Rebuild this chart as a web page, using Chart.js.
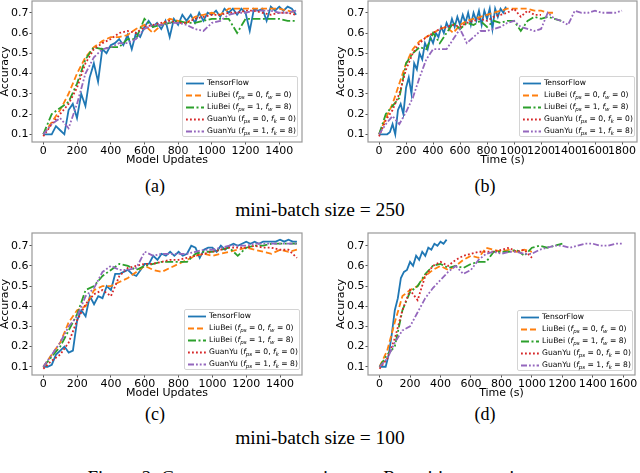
<!DOCTYPE html>
<html>
<head>
<meta charset="utf-8">
<script src="https://cdn.jsdelivr.net/npm/chart.js@4.4.0/dist/chart.umd.min.js"></script>
<style>
body { margin: 0; width: 640px; height: 473px; overflow: hidden; background: #fff; position: relative; }
canvas { position: absolute; }
.cap { position: absolute; font-family: 'Liberation Serif'; color: #000; white-space: nowrap; transform: translateX(-50%); line-height: 1; }
.leg { position: absolute; background: rgba(255,255,255,0.85); border: 1px solid #d4d4d4; border-radius: 2px; box-sizing: border-box; font: 7.6px 'DejaVu Sans'; color: #000; }
.leg div { position: absolute; left: 0; height: 12px; line-height: 12px; white-space: nowrap; }
.leg svg { position: absolute; left: 3px; top: 0; }
.leg span { position: absolute; left: 24px; top: 0; }
.leg sub { font-size: 72%; vertical-align: -1.5px; line-height: 0; }
</style>
</head>
<body>
<canvas id="ca" width="305" height="170" style="left:0;top:0"></canvas>
<canvas id="cb" width="320" height="170" style="left:320px;top:0"></canvas>
<canvas id="cc" width="305" height="173" style="left:0;top:230px"></canvas>
<canvas id="cd" width="320" height="173" style="left:320px;top:230px"></canvas>

<div class="cap" style="left:155px;top:177px;font-size:18px">(a)</div>
<div class="cap" style="left:485px;top:177px;font-size:18px">(b)</div>
<div class="cap" style="left:320px;top:200px;font-size:19.5px">mini-batch size = 250</div>
<div class="cap" style="left:155px;top:405px;font-size:18px">(c)</div>
<div class="cap" style="left:485px;top:405px;font-size:18px">(d)</div>
<div class="cap" style="left:320px;top:428px;font-size:19.5px">mini-batch size = 100</div>
<div class="cap" style="left:320px;top:468px;font-size:19px">Figure 2: Convergence comparison on Repetition experiment</div>

<script>
// legend labels and tick labels
const seriesLabels = [
  'TensorFlow',
  'LiuBei (<i>f<sub>ps</sub></i> = 0, <i>f<sub>w</sub></i> = 0)',
  'LiuBei (<i>f<sub>ps</sub></i> = 1, <i>f<sub>w</sub></i> = 8)',
  'GuanYu (<i>f<sub>ps</sub></i> = 0, <i>f<sub>k</sub></i> = 0)',
  'GuanYu (<i>f<sub>ps</sub></i> = 1, <i>f<sub>k</sub></i> = 8)'
];
const accuracyTicks = [0.1, 0.2, 0.3, 0.4, 0.5, 0.6, 0.7];
const updateTicks = [0, 200, 400, 600, 800, 1000, 1200, 1400];
const timeTicksB = [0, 200, 400, 600, 800, 1000, 1200, 1400, 1600, 1800];
const timeTicksD = [0, 200, 400, 600, 800, 1000, 1200, 1400, 1600];

// (a) mini-batch 250, accuracy vs model updates (TF every 25 updates, others every 50)
const aTensorFlow = [0.10,0.10,0.10,0.14,0.12, 0.10,0.22,0.25,0.18,0.30, 0.24,0.38,0.45,0.36,0.52,
  0.50,0.54,0.55,0.57,0.54, 0.59,0.52,0.60,0.58,0.63, 0.66,0.63,0.65,0.62,0.66, 0.58,0.67,0.64,0.69,0.66,
  0.69,0.65,0.70,0.66,0.70, 0.69,0.71,0.68,0.72,0.70, 0.72,0.69,0.72,0.70,0.61, 0.72,0.71,0.72,0.66,0.73,
  0.71,0.73,0.71,0.73,0.72, 0.69];
const aLiuBei0 = [0.10,0.16,0.22,0.30,0.40,0.48,0.53,0.56,0.58,0.58, 0.59,0.62,0.64,0.60,0.64,0.67,0.66,0.65,0.68,0.69,
  0.70,0.69,0.72,0.72,0.72,0.72,0.72,0.72,0.72,0.71,0.70];
const aLiuBei1 = [0.10,0.20,0.23,0.26,0.35,0.47,0.53,0.52,0.53,0.53, 0.57,0.57,0.67,0.63,0.64,0.65,0.66,0.65,0.65,0.66,
  0.67,0.67,0.67,0.60,0.67,0.67,0.67,0.67,0.67,0.66,0.66];
const aGuanYu0 = [0.09,0.15,0.20,0.25,0.33,0.45,0.52,0.55,0.57,0.60, 0.61,0.60,0.63,0.64,0.65,0.66,0.65,0.65,0.67,0.68,
  0.69,0.69,0.70,0.70,0.71,0.71,0.70,0.69,0.70,0.70,0.69];
const aGuanYu1 = [0.10,0.15,0.18,0.13,0.25,0.40,0.48,0.52,0.53,0.55, 0.55,0.57,0.62,0.64,0.64,0.65,0.65,0.64,0.62,0.61,
  0.65,0.66,0.69,0.70,0.70,0.71,0.71,0.71,0.70,0.70,0.71];

// (b) mini-batch 250, accuracy vs time (TF every 20 s, others every 50 s)
const bTensorFlow = [0.10,0.10,0.10,0.10,0.11, 0.15,0.10,0.22,0.25,0.20, 0.33,0.38,0.30,0.45,0.42, 0.50,0.47,0.55,0.52,0.58,
  0.55,0.60,0.58,0.63,0.60, 0.65,0.62,0.67,0.63,0.68, 0.64,0.69,0.65,0.70,0.64, 0.70,0.66,0.71,0.64,0.71,
  0.67,0.72,0.62,0.72,0.68, 0.72,0.70,0.73];
const bLiuBei0 = [0.10,0.18,0.25,0.35,0.45,0.52,0.56,0.58,0.60,0.62, 0.63,0.60,0.64,0.66,0.67,0.68,0.69,0.70,0.71,0.72,
  0.72,0.72,0.72,0.71,0.71,0.70,0.70];
const bLiuBei1 = [0.10,0.20,0.24,0.28,0.45,0.50,0.53,0.52,0.60,0.55, 0.60,0.65,0.62,0.65,0.64,0.66,0.63,0.66,0.65,0.66,
  0.66,0.61,0.66,0.68,0.67,0.68,0.67,0.66];
const bGuanYu0 = [0.09,0.17,0.22,0.30,0.42,0.50,0.55,0.58,0.60,0.62, 0.63,0.64,0.63,0.65,0.66,0.67,0.66,0.68,0.69,0.70,
  0.72,0.68,0.71,0.69,0.69];
const bGuanYu1 = [0.10,0.15,0.19,0.15,0.21,0.28,0.38,0.47,0.52,0.52, 0.52,0.57,0.62,0.55,0.58,0.61,0.61,0.62,0.63,0.65,
  0.66,0.63,0.62,0.61,0.62,0.70,0.67,0.66,0.64,0.71, 0.70,0.70,0.71,0.70,0.70,0.70,0.71];

// (c) mini-batch 100, accuracy vs model updates
const cTensorFlow = [0.10,0.10,0.11,0.16,0.18, 0.20,0.17,0.18,0.33,0.38, 0.35,0.45,0.41,0.45,0.44, 0.50,0.48,0.56,0.56,0.57,
  0.58,0.56,0.55,0.58,0.61, 0.61,0.65,0.63,0.66,0.65, 0.67,0.65,0.67,0.65,0.66, 0.70,0.69,0.64,0.68,0.69,
  0.69,0.67,0.70,0.68,0.70, 0.71,0.70,0.71,0.72,0.71, 0.72,0.71,0.72,0.72,0.72, 0.72,0.73,0.72,0.73,0.72, 0.72];
const cLiuBei0 = [0.10,0.16,0.22,0.32,0.38,0.40,0.48,0.50,0.50,0.52, 0.54,0.57,0.60,0.58,0.57,0.59,0.61,0.63,0.65,0.66,
  0.65,0.66,0.67,0.68,0.69,0.68,0.67,0.66,0.68,0.67,0.68];
const cLiuBei1 = [0.10,0.15,0.20,0.28,0.36,0.48,0.50,0.55,0.58,0.61, 0.60,0.58,0.60,0.61,0.62,0.62,0.62,0.62,0.66,0.67,
  0.67,0.68,0.69,0.65,0.69,0.70,0.70,0.71,0.71,0.71,0.71];
const cGuanYu0 = [0.09,0.13,0.16,0.22,0.33,0.41,0.46,0.48,0.45,0.55, 0.59,0.60,0.61,0.61,0.62,0.63,0.63,0.64,0.65,0.66,
  0.67,0.68,0.69,0.69,0.69,0.70,0.69,0.69,0.68,0.68,0.64];
const cGuanYu1 = [0.10,0.16,0.22,0.30,0.35,0.45,0.49,0.57,0.60,0.58, 0.58,0.59,0.67,0.65,0.66,0.66,0.66,0.66,0.67,0.68,
  0.68,0.69,0.70,0.70,0.70,0.71,0.71,0.71,0.71,0.71,0.71];

// (d) mini-batch 100, accuracy vs time
const dTensorFlow = [0.10,0.10,0.10,0.16,0.26, 0.38,0.44,0.54,0.57,0.58, 0.62,0.60,0.65,0.63,0.67, 0.65,0.69,0.68,0.71,0.70,
  0.72,0.71,0.73];
const dLiuBei0 = [0.10,0.18,0.32,0.45,0.48,0.50,0.55,0.58,0.60,0.58, 0.60,0.63,0.65,0.64,0.69,0.68,0.67,0.68,0.67,0.68, 0.67];
const dLiuBei1 = [0.10,0.16,0.20,0.38,0.47,0.50,0.56,0.60,0.61,0.59, 0.60,0.59,0.61,0.62,0.62,0.67,0.67,0.67,0.68,0.65,
  0.69,0.70,0.69,0.70,0.71];
const dGuanYu0 = [0.09,0.14,0.24,0.38,0.48,0.43,0.55,0.60,0.62,0.60, 0.63,0.65,0.66,0.67,0.67,0.67,0.68,0.69,0.67,0.68, 0.64];
const dGuanYu1 = [0.10,0.14,0.22,0.28,0.30,0.37,0.44,0.49,0.53,0.57, 0.60,0.56,0.58,0.63,0.66,0.67,0.66,0.67,0.67,0.66,
  0.66,0.68,0.69,0.70,0.70,0.69,0.70,0.71,0.71,0.70, 0.70,0.71,0.71];

const lineColors = ['#1f77b4', '#ff7f0e', '#2ca02c', '#d62728', '#9467bd'];
const lineDashes = [[], [6, 3], [8, 2.5, 2, 2.5], [1.8, 2.2], [6, 2, 1.8, 2, 1.8, 2]];

Chart.defaults.font.family = 'DejaVu Sans';
Chart.defaults.color = '#000';

function points(ys, step) {
  return ys.map((y, i) => ({ x: i * step, y: y }));
}

// matplotlib-like box round the axes
const framePlugin = {
  id: 'frame',
  afterDatasetsDraw(chart) {
    const a = chart.chartArea, c = chart.ctx;
    c.save();
    c.strokeStyle = '#999';
    c.lineWidth = 1.2;
    c.strokeRect(a.left, a.top, a.right - a.left, a.bottom - a.top);
    c.restore();
  }
};

function addLegend(chart, pageLeft, pageTop, dx, dy) {
  const a = chart.chartArea;
  const w = 116, h = 61;
  const box = document.createElement('div');
  box.className = 'leg';
  box.style.width = w + 'px';
  box.style.height = h + 'px';
  box.style.left = (pageLeft + a.right - dx - w) + 'px';
  box.style.top = (pageTop + a.bottom - dy - h) + 'px';
  seriesLabels.forEach((lab, i) => {
    const row = document.createElement('div');
    row.style.top = (i * 12) + 'px';
    row.innerHTML = '<svg width="18" height="12"><line x1="0" y1="6.5" x2="18" y2="6.5" stroke="' + lineColors[i] +
      '" stroke-width="1.8" stroke-dasharray="' + (lineDashes[i].length ? lineDashes[i].join(' ') : 'none') + '"/></svg>' +
      '<span>' + lab + '</span>';
    box.appendChild(row);
  });
  document.body.appendChild(box);
}

function drawPanel(p) {
  const datasets = p.series.map((ys, i) => ({
    label: seriesLabels[i],
    data: points(ys, p.steps[i]),
    borderColor: lineColors[i],
    borderWidth: 1.8,
    borderDash: lineDashes[i],
    pointRadius: 0,
    fill: false,
    tension: 0,
    order: p.series.length - i
  }));
  const chart = new Chart(document.getElementById(p.id), {
    type: 'line',
    data: { datasets: datasets },
    plugins: [framePlugin],
    options: {
      responsive: false,
      animation: false,
      events: [],
      layout: { padding: p.pad },
      plugins: { legend: { display: false }, tooltip: { enabled: false } },
      scales: {
        x: {
          type: 'linear',
          min: p.xMin, max: p.xMax,
          afterBuildTicks: s => { s.ticks = p.xTicks.map(v => ({ value: v })); },
          afterFit: s => { s.height = 28; s.paddingLeft = 0; s.paddingRight = 0; },
          ticks: { autoSkip: false, maxRotation: 0, padding: 0, font: { size: 11 }, color: '#000', callback: v => String(v) },
          grid: { drawOnChartArea: false, drawTicks: true, tickLength: 2.5, color: '#555' },
          border: { display: false },
          title: { display: true, text: p.xTitle, font: { size: 11 }, color: '#000', padding: { top: 0, bottom: 3 } }
        },
        y: {
          type: 'linear',
          min: p.yMin, max: p.yMax,
          afterBuildTicks: s => { s.ticks = accuracyTicks.map(v => ({ value: v })); },
          afterFit: s => { s.width = p.yWidth; s.paddingTop = 0; s.paddingBottom = 0; },
          ticks: { padding: 1, font: { size: 11 }, color: '#000', callback: v => v.toFixed(1) },
          grid: { drawOnChartArea: false, drawTicks: true, tickLength: 2.5, color: '#555' },
          border: { display: false },
          title: { display: true, text: 'Accuracy', font: { size: 11 }, color: '#000', padding: { top: p.yTitlePad, bottom: 0 } }
        }
      }
    }
  });
  addLegend(chart, p.left, p.top, p.legDx, p.legDy);
}

const stepsUpdates = [25, 50, 50, 50, 50];
const stepsTime = [20, 50, 50, 50, 50];

drawPanel({ id: 'ca', left: 0, top: 0, series: [aTensorFlow, aLiuBei0, aLiuBei1, aGuanYu0, aGuanYu1], steps: stepsUpdates,
  xTicks: updateTicks, xMin: -67, xMax: 1535, yMin: 0.062, yMax: 0.758, xTitle: 'Model Updates',
  yWidth: 32, yTitlePad: -1, pad: { top: 1, right: 3, left: 0, bottom: 0 }, legDx: 4, legDy: 5 });
drawPanel({ id: 'cb', left: 320, top: 0, series: [bTensorFlow, bLiuBei0, bLiuBei1, bGuanYu0, bGuanYu1], steps: stepsTime,
  xTicks: timeTicksB, xMin: -82, xMax: 1911, yMin: 0.062, yMax: 0.758, xTitle: 'Time (s)',
  yWidth: 48, yTitlePad: 15, pad: { top: 1, right: 3, left: 0, bottom: 0 }, legDx: 2, legDy: 5 });
drawPanel({ id: 'cc', left: 0, top: 230, series: [cTensorFlow, cLiuBei0, cLiuBei1, cGuanYu0, cGuanYu1], steps: stepsUpdates,
  xTicks: updateTicks, xMin: -67, xMax: 1530, yMin: 0.059, yMax: 0.763, xTitle: 'Model Updates',
  yWidth: 32, yTitlePad: -1, pad: { top: 3, right: 3, left: 0, bottom: 0 }, legDx: 2, legDy: 5 });
drawPanel({ id: 'cd', left: 320, top: 230, series: [dTensorFlow, dLiuBei0, dLiuBei1, dGuanYu0, dGuanYu1], steps: stepsTime,
  xTicks: timeTicksD, xMin: -76, xMax: 1677, yMin: 0.059, yMax: 0.763, xTitle: 'Time (s)',
  yWidth: 48, yTitlePad: 15, pad: { top: 3, right: 5, left: 0, bottom: 0 }, legDx: 2, legDy: 4 });
</script>
</body>
</html>
